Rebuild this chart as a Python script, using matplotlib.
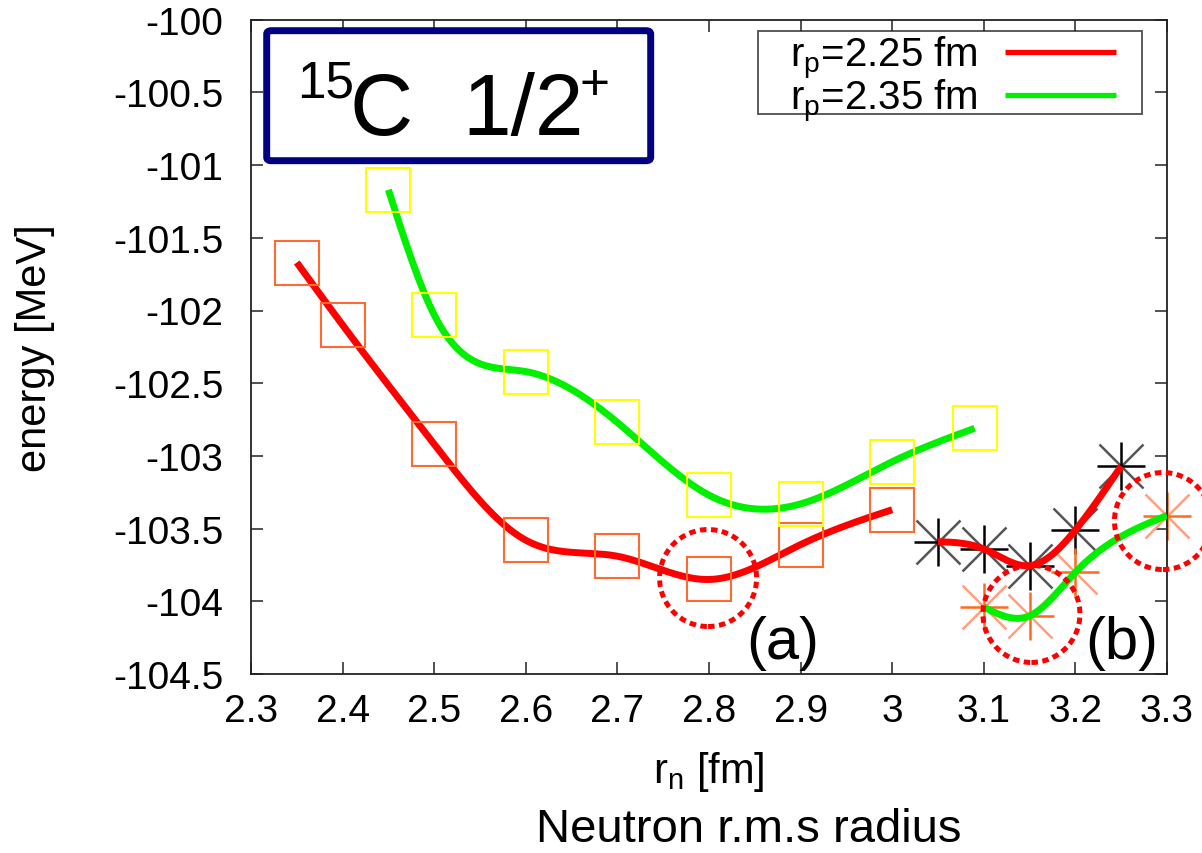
import numpy as np
import matplotlib
matplotlib.use('Agg')
import matplotlib.pyplot as plt
from matplotlib.patches import Ellipse, FancyBboxPatch
from matplotlib.path import Path

plt.rcParams['font.family'] = ['Liberation Sans', 'DejaVu Sans']
plt.rcParams['mathtext.fontset'] = 'custom'
plt.rcParams['mathtext.rm'] = 'Liberation Sans'
plt.rcParams['mathtext.it'] = 'Liberation Sans:italic'

# ---- data ----
rn_225_sq = [2.35, 2.4, 2.5, 2.6, 2.7, 2.8, 2.9, 3.0]
e_225_sq = [-101.67, -102.10, -102.92, -103.58, -103.69, -103.85, -103.61, -103.37]
rn_235_sq = [2.45, 2.5, 2.6, 2.7, 2.8, 2.9, 3.0, 3.09]
e_235_sq = [-101.17, -102.03, -102.42, -102.77, -103.27, -103.33, -103.04, -102.81]
rn_225_st = [3.05, 3.1, 3.15, 3.2, 3.25]
e_225_st = [-103.59, -103.64, -103.755, -103.51, -103.07]
rn_235_st = [3.1, 3.15, 3.2, 3.3]
e_235_st = [-104.04, -104.10, -103.80, -103.41]

xticks = [2.3, 2.4, 2.5, 2.6, 2.7, 2.8, 2.9, 3.0, 3.1, 3.2, 3.3]
xticklabels = ['2.3', '2.4', '2.5', '2.6', '2.7', '2.8', '2.9', '3', '3.1', '3.2', '3.3']
yticks = [-100, -100.5, -101, -101.5, -102, -102.5, -103, -103.5, -104, -104.5]
yticklabels = ['-100', '-100.5', '-101', '-101.5', '-102', '-102.5', '-103', '-103.5', '-104', '-104.5']

labels = ['r$_\\mathrm{p}$=2.25 fm', 'r$_\\mathrm{p}$=2.35 fm']
circle_a = (2.799, -103.84)
circle_b1 = (3.152, -104.087)
circle_b2 = (3.2956, -103.448)


def csplines(x, y, n=300):
    """Natural cubic spline through the points (as gnuplot 'smooth csplines')."""
    x = np.asarray(x, float)
    y = np.asarray(y, float)
    m = len(x)
    h = np.diff(x)
    A = np.zeros((m, m))
    b = np.zeros(m)
    A[0, 0] = 1
    A[-1, -1] = 1
    for i in range(1, m - 1):
        A[i, i - 1] = h[i - 1]
        A[i, i] = 2 * (h[i - 1] + h[i])
        A[i, i + 1] = h[i]
        b[i] = 6 * ((y[i + 1] - y[i]) / h[i] - (y[i] - y[i - 1]) / h[i - 1])
    M = np.linalg.solve(A, b)
    xs = np.linspace(x[0], x[-1], n)
    idx = np.clip(np.searchsorted(x, xs) - 1, 0, m - 2)
    x0, x1 = x[idx], x[idx + 1]
    hh = x1 - x0
    t0 = x1 - xs
    t1 = xs - x0
    ys = (M[idx] * t0 ** 3 / (6 * hh) + M[idx + 1] * t1 ** 3 / (6 * hh)
          + (y[idx] / hh - M[idx] * hh / 6) * t0
          + (y[idx + 1] / hh - M[idx + 1] * hh / 6) * t1)
    return xs, ys


W, H = 1202, 854
fig = plt.figure(figsize=(W / 100, H / 100), dpi=100)
ax = fig.add_axes([251 / W, (H - 675) / H, 916 / W, 654.3 / H])

red = '#ff0000'
green = '#00f000'
sq_red = '#ff6a30'
sq_yel = '#ffff00'

# asterisks (under the curves)
ms_st = 34
ax.plot(rn_225_st, e_225_st, ls='none', marker='x', ms=ms_st * 0.95, mew=1.8, color='#555555', zorder=2, clip_on=False)
ax.plot(rn_225_st, e_225_st, ls='none', marker='+', ms=ms_st, mew=1.8, color='#000000', zorder=2, clip_on=False)
ax.plot(rn_235_st, e_235_st, ls='none', marker='x', ms=ms_st * 0.95, mew=1.8, color='#ffa080', zorder=2, clip_on=False)
ax.plot(rn_235_st, e_235_st, ls='none', marker='+', ms=ms_st, mew=1.8, color='#ff6a20', zorder=2, clip_on=False)

# smooth curves
xs, ys = csplines(rn_225_sq, e_225_sq)
l1, = ax.plot(xs, ys, color=red, lw=5, solid_capstyle='butt', zorder=3, label=labels[0])
xs, ys = csplines(rn_235_sq, e_235_sq)
l2, = ax.plot(xs, ys, color=green, lw=5, solid_capstyle='butt', zorder=3, label=labels[1])
xs, ys = csplines(rn_225_st, e_225_st)
ax.plot(xs, ys, color=red, lw=5, solid_capstyle='butt', zorder=3)
xs, ys = csplines(rn_235_st, e_235_st)
ax.plot(xs, ys, color=green, lw=5, solid_capstyle='butt', zorder=3)

# squares
ax.plot(rn_225_sq, e_225_sq, ls='none', marker='s', ms=31.5, mfc='none', mec=sq_red, mew=1.5, zorder=4)
ax.plot(rn_235_sq, e_235_sq, ls='none', marker='s', ms=31.5, mfc='none', mec=sq_yel, mew=1.5, zorder=4)

# dotted circles
cw = 97 / 916 * 1.0
ch = 97 / 654.3 * 4.5
for c in (circle_a, circle_b1, circle_b2):
    ax.add_patch(Ellipse(c, cw, ch, fill=False, edgecolor=red, lw=3.6,
                         linestyle=(0, (1.3, 0.9)), zorder=5, clip_on=False))

ax.text(2.881, -104.28, '(a)', fontsize=43, ha='center', va='center', zorder=6)
ax.text(3.251, -104.28, '(b)', fontsize=43, ha='center', va='center', zorder=6)

ax.set_xlim(2.3, 3.3)
ax.set_ylim(-104.5, -100)
ax.set_xticks(xticks)
ax.set_xticklabels(xticklabels)
ax.set_yticks(yticks)
ax.set_yticklabels(yticklabels)
ax.tick_params(direction='in', length=8.5, width=1.1, top=True, right=True,
               labelsize=28, color='#222222')
ax.tick_params(axis='x', pad=14)
ax.tick_params(axis='y', pad=20)
for s in ax.spines.values():
    s.set_linewidth(1.3)
    s.set_color('#222222')

ax.set_ylabel('energy [MeV]', fontsize=30, va='center')
ax.yaxis.set_label_coords((35 - 251) / 916, 0.5)

fig.text(709 / W, 1 - 772 / H, 'r$_\\mathrm{n}$ [fm]', fontsize=30, ha='center', va='center')
fig.text(749 / W, 1 - 830 / H, 'Neutron r.m.s radius', fontsize=34, ha='center', va='center')


def wide_box(x0, y0, width, height, mutation_size):
    dxl, dxr = 32.0, 26.0
    yb = y0 + 10.5
    yt = y0 + height + 3.3
    return Path([(x0 - dxl, yb), (x0 + width + dxr, yb), (x0 + width + dxr, yt),
                 (x0 - dxl, yt), (x0 - dxl, yb)], closed=True)


leg = ax.legend(handles=[l1, l2], loc='upper right', bbox_to_anchor=((1115.7 - 251) / 916, 0.9781),
                borderaxespad=0, fontsize=29, markerfirst=False, frameon=True,
                fancybox=False, edgecolor='#222222', borderpad=0.0, labelspacing=-0.1,
                handlelength=2.75, handletextpad=0.67)
leg.get_frame().set_linewidth(1.3)
leg.get_frame().set_boxstyle(wide_box)
for lh in leg.get_lines():
    lh.set_linewidth(3.8)

# title box
box = FancyBboxPatch((266.7 / W, 1 - 161.7 / H), 384 / W, 130 / H,
                     boxstyle='round,pad=0,rounding_size=0.004', transform=fig.transFigure,
                     facecolor='white', edgecolor='#000080', lw=5, zorder=10)
fig.patches.append(box)
fig.text(297 / W, 1 - 98 / H, '15', fontsize=37, ha='left', va='baseline', zorder=11)
fig.text(350 / W, 1 - 135 / H, 'C', fontsize=63, ha='left', va='baseline', zorder=11)
fig.text(462 / W, 1 - 135 / H, '1/2', fontsize=63, ha='left', va='baseline', zorder=11)
fig.text(580 / W, 1 - 100 / H, '+', fontsize=37, ha='left', va='baseline', zorder=11)

fig.savefig('out.png', dpi=100)
